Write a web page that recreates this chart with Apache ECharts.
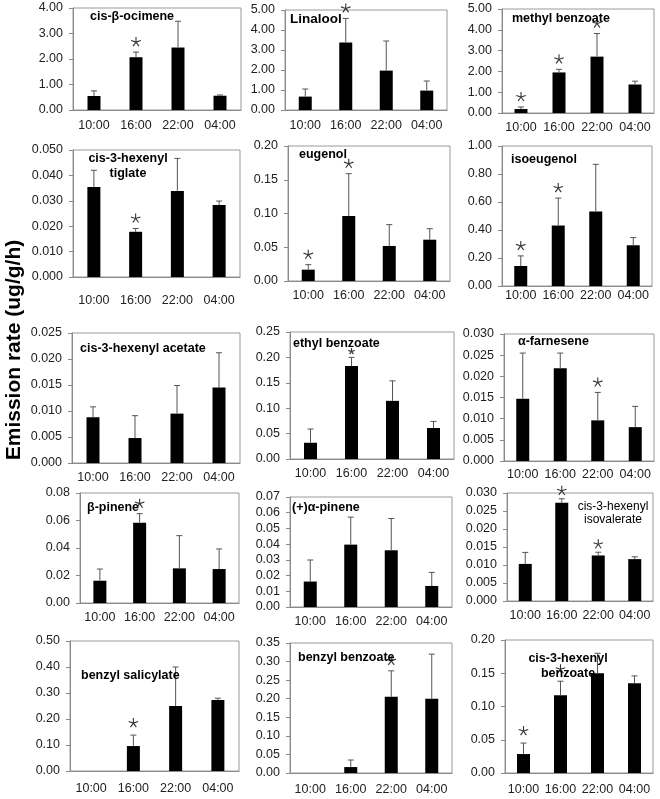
<!DOCTYPE html>
<html><head><meta charset="utf-8">
<script src="https://cdn.jsdelivr.net/npm/echarts@6/dist/echarts.min.js"></script>
<style>html,body{margin:0;padding:0;background:#fff}#c{width:660px;height:799px}</style>
</head><body><div id="c"></div>
<script>
// ---------- data ----------
const times = ['10:00', '16:00', '22:00', '04:00'];

const ocimeneMean = [0.55, 2.07, 2.45, 0.56];
const ocimeneErr  = [0.20, 0.20, 1.03, 0.03];
const ocimeneSig  = [0, 1, 0, 0];

const linaloolMean = [0.67, 3.38, 1.97, 0.97];
const linaloolErr  = [0.38, 1.20, 1.48, 0.48];
const linaloolSig  = [0, 1, 0, 0];

const methylBenzoateMean = [0.19, 1.95, 2.71, 1.37];
const methylBenzoateErr  = [0.10, 0.15, 1.11, 0.16];
const methylBenzoateSig  = [1, 1, 1, 0];

const tiglateMean = [0.0354, 0.0178, 0.0339, 0.0283];
const tiglateErr  = [0.0066, 0.0013, 0.0128, 0.0016];
const tiglateSig  = [0, 1, 0, 0];

const eugenolMean = [0.0168, 0.0963, 0.0519, 0.0612];
const eugenolErr  = [0.0074, 0.0627, 0.0316, 0.0163];
const eugenolSig  = [1, 1, 0, 0];

const isoeugenolMean = [0.143, 0.432, 0.532, 0.291];
const isoeugenolErr  = [0.072, 0.196, 0.337, 0.055];
const isoeugenolSig  = [1, 1, 0, 0];

const hexAcetateMean = [0.0088, 0.0048, 0.0095, 0.0145];
const hexAcetateErr  = [0.0020, 0.0043, 0.0054, 0.0067];
const hexAcetateSig  = [0, 0, 0, 0];

const ethylBenzoateMean = [0.032, 0.183, 0.1145, 0.061];
const ethylBenzoateErr  = [0.027, 0.017, 0.0393, 0.013];
const ethylBenzoateSig  = [0, 1, 0, 0];

const farneseneMean = [0.0147, 0.0219, 0.0096, 0.0080];
const farneseneErr  = [0.0108, 0.0036, 0.0066, 0.0049];
const farneseneSig  = [0, 0, 1, 0];

const bPineneMean = [0.0162, 0.0584, 0.0252, 0.0247];
const bPineneErr  = [0.0085, 0.0066, 0.0238, 0.0146];
const bPineneSig  = [0, 1, 0, 0];

const aPineneMean = [0.0162, 0.0397, 0.0361, 0.0134];
const aPineneErr  = [0.0137, 0.0175, 0.0202, 0.0086];
const aPineneSig  = [0, 0, 0, 0];

const isovalerateMean = [0.0103, 0.0273, 0.01265, 0.01163];
const isovalerateErr  = [0.0032, 0.0011, 0.0009, 0.00065];
const isovalerateSig  = [0, 1, 1, 0];

const salicylateMean = [0, 0.096, 0.25, 0.273];
const salicylateErr  = [0, 0.042, 0.15, 0.007];
const salicylateSig  = [0, 1, 0, 0];

const benzylBenzoateMean = [0, 0.016, 0.205, 0.20];
const benzylBenzoateErr  = [0, 0.019, 0.070, 0.12];
const benzylBenzoateSig  = [0, 0, 1, 0];

const hexBenzoateMean = [0.0285, 0.117, 0.150, 0.135];
const hexBenzoateErr  = [0.0165, 0.021, 0.030, 0.011];
const hexBenzoateSig  = [1, 1, 0, 0];

const yTitle = 'Emission rate (ug/g/h)';

// ---------- panels (data refs + layout) ----------
const panels = [
  {name:['cis-β-ocimene'], mean:ocimeneMean, err:ocimeneErr, sig:ocimeneSig,
   g:[73,8,168,102], max:4, iv:1, dec:2, xm:9, t:{x:90,y:17}},
  {name:['Linalool'], mean:linaloolMean, err:linaloolErr, sig:linaloolSig,
   g:[285,10,162,100], max:5, iv:1, dec:2, xm:9, t:{x:290,y:19,size:13.5}},
  {name:['methyl benzoate'], mean:methylBenzoateMean, err:methylBenzoateErr, sig:methylBenzoateSig,
   g:[502,9,152,104], max:5, iv:1, dec:2, xm:8, t:{x:512,y:19}},
  {name:['cis-3-hexenyl','tiglate'], mean:tiglateMean, err:tiglateErr, sig:tiglateSig,
   g:[73,150,167,127], max:0.05, iv:0.01, dec:3, xm:17, t:{x:128,y:159,center:true}},
  {name:['eugenol'], mean:eugenolMean, err:eugenolErr, sig:eugenolSig,
   g:[288,146,162,135], max:0.2, iv:0.05, dec:2, xm:8, t:{x:299,y:155}},
  {name:['isoeugenol'], mean:isoeugenolMean, err:isoeugenolErr, sig:isoeugenolSig,
   g:[502,146,150,140], max:1, iv:0.2, dec:2, xm:3, t:{x:511,y:160}},
  {name:['cis-3-hexenyl acetate'], mean:hexAcetateMean, err:hexAcetateErr, sig:hexAcetateSig,
   g:[72,333,168,130], max:0.025, iv:0.005, dec:3, xm:8, t:{x:80,y:349}},
  {name:['ethyl benzoate'], mean:ethylBenzoateMean, err:ethylBenzoateErr, sig:ethylBenzoateSig,
   g:[290,332,164,127], max:0.25, iv:0.05, dec:2, xm:8, t:{x:293,y:344}, star:{r:3.3,gap:6}},
  {name:['α-farnesene'], mean:farneseneMean, err:farneseneErr, sig:farneseneSig,
   g:[504,334,150,127], max:0.03, iv:0.005, dec:3, xm:7, t:{x:518,y:342}},
  {name:['β-pinene'], mean:bPineneMean, err:bPineneErr, sig:bPineneSig,
   g:[80,493,159,110], max:0.08, iv:0.02, dec:2, xm:8, t:{x:87,y:508}},
  {name:['(+)α-pinene'], mean:aPineneMean, err:aPineneErr, sig:aPineneSig,
   g:[290,497,162,110], max:0.07, iv:0.01, dec:2, xm:8, t:{x:292,y:508}},
  {name:['cis-3-hexenyl','isovalerate'], mean:isovalerateMean, err:isovalerateErr, sig:isovalerateSig,
   g:[507,493,146,108], max:0.03, iv:0.005, dec:3, xm:8, star:{r:5,gap:8},
   t:{x:613,y:507,center:true,bold:false,size:12,lh:13}},
  {name:['benzyl salicylate'], mean:salicylateMean, err:salicylateErr, sig:salicylateSig,
   g:[70,641,169,130], max:0.5, iv:0.1, dec:2, xm:11, star:{r:5,gap:12}, t:{x:81,y:676}},
  {name:['benzyl benzoate'], mean:benzylBenzoateMean, err:benzylBenzoateErr, sig:benzylBenzoateSig,
   g:[290,643,162,130], max:0.35, iv:0.05, dec:2, xm:10, t:{x:298,y:658}},
  {name:['cis-3-hexenyl','benzoate'], mean:hexBenzoateMean, err:hexBenzoateErr, sig:hexBenzoateSig,
   g:[505,640,148,133], max:0.2, iv:0.05, dec:2, xm:10, star:{r:5,gap:12}, t:{x:568,y:659,center:true}}
];

const FONT = '"Liberation Sans", Arial, sans-serif';
const grid = [], xAxis = [], yAxis = [], series = [], graphic = [];

// five-armed thin asterisk as line segments
function starLines(cx, cy, r) {
  const out = [];
  [90, 18, 162, -54, -126].forEach(function (deg) {
    const a = deg * Math.PI / 180;
    out.push({type:'line', shape:{x1:cx, y1:cy, x2:cx + r*Math.cos(a), y2:cy - r*Math.sin(a)},
              style:{stroke:'#333', lineWidth:1.1}});
  });
  return out;
}

function makeRender(starCfg) {
  return function (params, api) {
    const i = api.value(0), m = api.value(1), e = api.value(2), s = api.value(3);
    const base = api.coord([i, m]);
    const top = api.coord([i, m + e]);
    let ch = [];
    if (e > 0) {
      ch.push({type:'line', shape:{x1:base[0], y1:base[1], x2:top[0], y2:top[1]},
               style:{stroke:'#555', lineWidth:1}});
      ch.push({type:'line', shape:{x1:top[0]-3, y1:top[1], x2:top[0]+3, y2:top[1]},
               style:{stroke:'#555', lineWidth:1}});
    }
    if (s) ch = ch.concat(starLines(top[0], top[1] - starCfg.gap, starCfg.r));
    return {type:'group', children:ch};
  };
}

panels.forEach(function (p, k) {
  grid.push({left:p.g[0], top:p.g[1], width:p.g[2], height:p.g[3],
             show:true, borderColor:'#9a9a9a', borderWidth:1, backgroundColor:'transparent'});
  xAxis.push({type:'category', gridIndex:k, data:times,
              axisLine:{lineStyle:{color:'#8a8a8a'}}, axisTick:{show:false},
              axisLabel:{color:'#222', fontSize:12.5, fontFamily:FONT, margin:p.xm, interval:0}});
  yAxis.push({type:'value', gridIndex:k, min:0, max:p.max, interval:p.iv,
              splitLine:{show:false},
              axisLine:{show:true, lineStyle:{color:'#8a8a8a'}},
              axisTick:{show:true, length:4, lineStyle:{color:'#8a8a8a'}},
              axisLabel:{color:'#222', fontSize:12.5, fontFamily:FONT, margin:10,
                         formatter:(function(d){return function(v){return v.toFixed(d);};})(p.dec)}});
  series.push({type:'bar', xAxisIndex:k, yAxisIndex:k, data:p.mean,
               barWidth:13, itemStyle:{color:'#000'}, silent:true, animation:false});
  series.push({type:'custom', xAxisIndex:k, yAxisIndex:k, animation:false, silent:true, z:5,
               renderItem: makeRender(p.star || {r:5, gap:10}),
               data: p.mean.map(function (m, i) { return [i, m, p.err[i], p.sig[i]]; })});
  const t = p.t;
  const size = t.size || 12.5;
  const weight = t.bold === false ? 'normal' : 'bold';
  const lh = t.lh || 15;
  p.name.forEach(function (line, j) {
    graphic.push({type:'text', x:t.x, y:t.y + j*lh, z:10,
                  style:{text:line, fill:'#000', font:weight + ' ' + size + 'px ' + FONT,
                         textAlign:t.center ? 'center' : 'left', textVerticalAlign:'middle'}});
  });
});

graphic.push({type:'text', x:14, y:350, rotation:Math.PI/2, z:10,
              style:{text:yTitle, fill:'#000', font:'bold 21px ' + FONT,
                     textAlign:'center', textVerticalAlign:'middle'}});

const chart = echarts.init(document.getElementById('c'), null, {renderer:'canvas'});
chart.setOption({animation:false, grid:grid, xAxis:xAxis, yAxis:yAxis, series:series, graphic:graphic});
</script>
</body></html>
